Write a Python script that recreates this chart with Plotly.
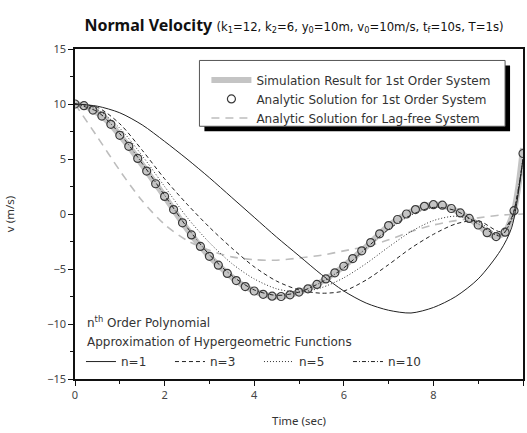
import plotly.graph_objects as go

# ---------------- data ----------------
t_circ = [round(0.2 * i, 1) for i in range(51)]
v_circ = [10.0, 9.85, 9.45, 8.9, 8.15, 7.15, 6.15, 5.05, 3.9, 2.75,
          1.6, 0.4, -0.8, -1.9, -2.95, -3.85, -4.65, -5.4, -6.05, -6.6,
          -7.0, -7.3, -7.47, -7.5, -7.35, -7.1, -6.8, -6.4, -5.9, -5.35,
          -4.75, -4.05, -3.35, -2.6, -1.8, -1.05, -0.5, 0.0, 0.4, 0.7,
          0.85, 0.8, 0.5, 0.1, -0.4, -1.0, -1.7, -2.05, -1.65, 0.3, 5.5]

t_sim = t_circ[:-1] + [9.9, 10.0]
v_sim = v_circ[:-1] + [2.6, 6.0]

t_lag = [0, 0.5, 1.0, 1.5, 2.0, 2.5, 3.0, 3.5, 4.0, 4.5, 5.0, 5.5, 6.0,
         6.5, 7.0, 7.5, 8.0, 8.5, 9.0, 9.5, 10.0]
v_lag = [10, 7.0, 3.95, 1.2, -0.95, -2.4, -3.3, -3.9, -4.15, -4.2, -4.0,
         -3.75, -3.35, -2.95, -2.35, -1.6, -1.0, -0.6, -0.35, -0.1, 0.0]

t_n = [0, 0.5, 1.0, 1.5, 2.0, 2.5, 3.0, 3.5, 4.0, 4.5, 5.0, 5.5, 6.0,
       6.5, 7.0, 7.5, 8.0, 8.5, 9.0, 9.5, 9.75, 10.0]
v_n1 = [10, 9.8, 9.2, 8.1, 6.6, 5.0, 3.3, 1.5, -0.3, -2.1, -3.8, -5.5,
        -7.0, -8.1, -8.75, -9.0, -8.5, -7.5, -5.9, -3.3, -1.2, 5.0]
v_n3 = [10, 9.7, 8.2, 5.8, 3.2, 0.9, -1.2, -3.1, -4.8, -6.1, -6.9, -7.2,
        -7.0, -6.0, -4.6, -3.1, -1.85, -0.9, -0.6, -1.6, -0.3, 5.0]
v_n5 = [10, 9.5, 7.8, 5.3, 2.5, -0.3, -2.6, -4.5, -5.9, -6.8, -7.1, -6.7,
        -5.8, -4.5, -3.0, -1.6, -0.6, -0.2, -0.7, -1.9, -0.5, 5.0]
v_n10 = [10, 9.3, 7.3, 4.6, 1.7, -1.2, -3.7, -5.6, -6.9, -7.4, -7.1, -6.2,
         -4.9, -3.1, -1.4, -0.1, 0.6, 0.3, -0.9, -2.0, -0.4, 5.0]

x_ticks = [0, 2, 4, 6, 8, 10]
y_ticks = [-15, -10, -5, 0, 5, 10, 15]

FONT = "Noto Sans"
LFONT = "DejaVu Sans"
fig = go.Figure()

fig.add_trace(go.Scatter(x=t_sim, y=v_sim, mode="lines", name="Simulation Result for 1st Order System",
                         legendrank=1,
                         line=dict(color="#c4c4c4", width=6, shape="spline", smoothing=0.6)))
fig.add_trace(go.Scatter(x=t_lag, y=v_lag, mode="lines", name="Analytic Solution for Lag-free System",
                         legendrank=3,
                         line=dict(color="#bdbdbd", width=1.6, dash="8px,6px", shape="spline", smoothing=0.8)))
fig.add_trace(go.Scatter(x=t_n, y=v_n1, mode="lines", name="n=1", legend="legend2",
                         line=dict(color="#222", width=1, shape="spline", smoothing=0.8)))
fig.add_trace(go.Scatter(x=t_n, y=v_n3, mode="lines", name="n=3", legend="legend2",
                         line=dict(color="#222", width=1, dash="4px,3px", shape="spline", smoothing=0.8)))
fig.add_trace(go.Scatter(x=t_n, y=v_n5, mode="lines", name="n=5", legend="legend2",
                         line=dict(color="#333", width=1, dash="1px,2px", shape="spline", smoothing=0.8)))
fig.add_trace(go.Scatter(x=t_n, y=v_n10, mode="lines", name="n=10", legend="legend2",
                         line=dict(color="#222", width=1, dash="4px,2px,1px,2px", shape="spline", smoothing=0.8)))
fig.add_trace(go.Scatter(x=t_circ, y=v_circ, mode="markers", name="Analytic Solution for 1st Order System",
                         legendrank=2,
                         marker=dict(symbol="circle-open", size=8, color="#3a3a3a", line=dict(width=1.2))))


def px_x(p):
    return (p - 75) / 450


def px_y(p):
    return (379.5 - p) / 331


fig.update_layout(
    width=527, height=433,
    margin=dict(l=75, r=2, t=48.5, b=53.5),
    paper_bgcolor="white", plot_bgcolor="white",
    font=dict(family=FONT, size=11, color="#333"),
    title=dict(text="<b>Normal Velocity</b> <span style='font-size:11.7px;font-family:DejaVu Sans'>(k<sub>1</sub>=12, k<sub>2</sub>=6, y<sub>0</sub>=10m, v<sub>0</sub>=10m/s, t<sub>f</sub>=10s, T=1s)</span>",
               x=px_x(295), xref="paper", y=1 - 25 / 433, yref="container", yanchor="middle", xanchor="center",
               font=dict(family=FONT, size=16, color="#111")),
    legend=dict(x=px_x(207), y=px_y(65), xanchor="left", yanchor="top", bgcolor="rgba(0,0,0,0)",
                borderwidth=0, font=dict(family=LFONT, size=12, color="#333"),
                traceorder="normal", itemwidth=40),
    legend2=dict(x=px_x(81), y=px_y(362), xanchor="left", yanchor="middle", orientation="h",
                 bgcolor="rgba(0,0,0,0)", font=dict(family=LFONT, size=12, color="#333"),
                 entrywidth=44, entrywidthmode="pixels", itemwidth=30),
    showlegend=True,
)

fig.update_xaxes(range=[0, 10], tickvals=x_ticks, ticks="outside", ticklen=5, tickwidth=1.2,
                 tickcolor="#111", showline=True, linecolor="#111", linewidth=1.5, mirror=True,
                 showgrid=False, zeroline=False, tickfont=dict(size=11, color="#444"),
                 minor=dict(dtick=1, ticks="outside", ticklen=3, tickcolor="#111", tickwidth=1.2),
                 title=dict(text="Time (sec)", font=dict(size=11.5, color="#333"), standoff=16))
fig.update_yaxes(range=[-15, 15], tickvals=y_ticks, ticks="outside", ticklen=5, tickwidth=1.2,
                 tickcolor="#111", showline=True, linecolor="#111", linewidth=1.5, mirror=True,
                 showgrid=False, zeroline=False, tickfont=dict(size=11, color="#444"),
                 minor=dict(dtick=2.5, ticks="outside", ticklen=3, tickcolor="#111", tickwidth=1.2),
                 title=dict(text="v (m/s)", font=dict(size=11.5, color="#333"), standoff=30))

# legend frame with drop shadow
fig.add_shape(type="rect", xref="paper", yref="paper", layer="below",
              x0=px_x(205), x1=px_x(512), y0=px_y(131), y1=px_y(65),
              fillcolor="black", line=dict(width=0))
fig.add_shape(type="rect", xref="paper", yref="paper", layer="below",
              x0=px_x(200), x1=px_x(507), y0=px_y(126), y1=px_y(60),
              fillcolor="white", line=dict(color="#555", width=1))

fig.add_annotation(xref="paper", yref="paper", x=px_x(85), y=px_y(322),
                   xanchor="left", yanchor="middle", showarrow=False,
                   text="n<sup>th</sup> Order Polynomial", font=dict(family=LFONT, size=12, color="#333"))
fig.add_annotation(xref="paper", yref="paper", x=px_x(85), y=px_y(342),
                   xanchor="left", yanchor="middle", showarrow=False,
                   text="Approximation of Hypergeometric Functions", font=dict(family=LFONT, size=12, color="#333"))

fig.write_html("out.html")
